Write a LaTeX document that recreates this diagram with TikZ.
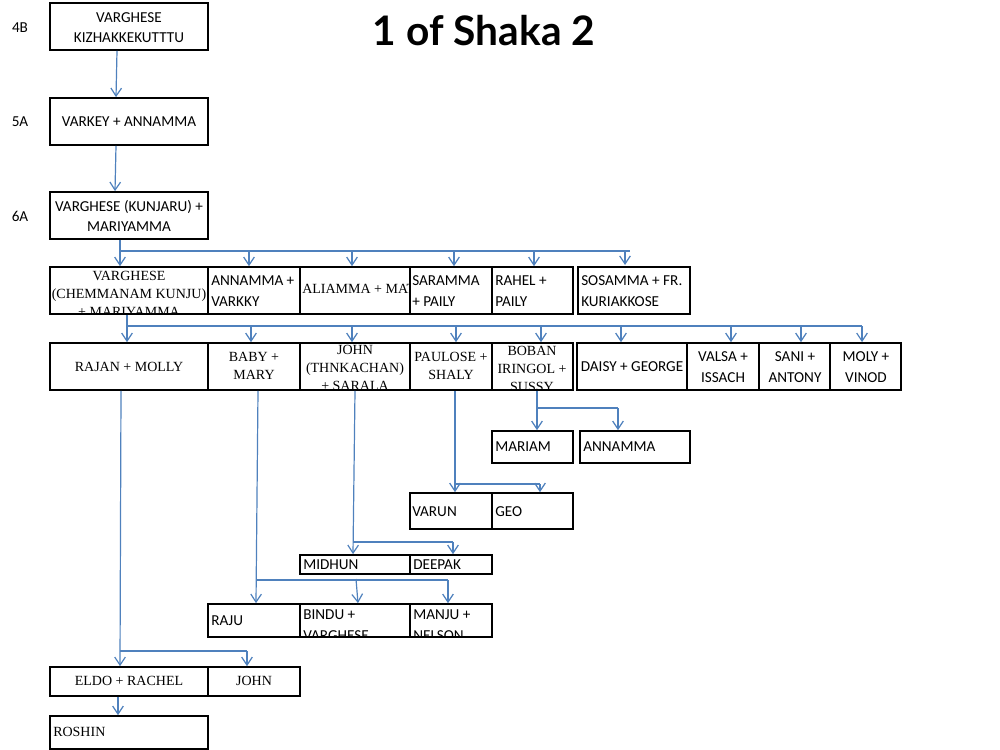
\documentclass[tikz,border=0pt]{standalone}
\usepackage{fontspec}
\usetikzlibrary{arrows.meta,fit}
\newfontfamily\calf{Carlito}
\newfontfamily\tmsf{Liberation Serif}
\newfontfamily\ttlf{Lato}
\definecolor{conn}{RGB}{79,129,189}
\tikzset{
  box/.style={draw=black, line width=1.3pt, inner sep=0pt, fill=none},
  cf/.style={font=\calf\fontsize{11.4}{15.5}\selectfont, inner sep=0pt, align=left},
  cfc/.style={font=\calf\fontsize{11.4}{15.5}\selectfont, inner sep=0pt, align=center},
  tf/.style={font=\tmsf\fontsize{10.5}{13.5}\selectfont, inner sep=0pt, align=center},
  tfl/.style={font=\tmsf\fontsize{10.5}{13.5}\selectfont, inner sep=0pt, align=left},
  ln/.style={draw=conn, line width=0.9pt},
  arr/.style={draw=conn, line width=0.9pt, -{Straight Barb[length=6pt,width=8pt]}},
  gen/.style={font=\calf\fontsize{11.4}{13}\selectfont, inner sep=0pt}
}
% name, x1, y1, x2, y2, text-node commands (clipped)
\newcommand\pbox[6]{%
  \begin{scope}\clip (#2,#3) rectangle (#4,#5); #6 \end{scope}
  \node[box, fit={(#2,#3)(#4,#5)}] (#1) {};
}
\begin{document}
\begin{tikzpicture}[x=0.75pt,y=-0.75pt]
\useasboundingbox (0,0) rectangle (1000,750);

% title
\node[font=\ttlf\bfseries\fontsize{30.5}{34}\selectfont, inner sep=0pt] (title) at (484,31) {1 of Shaka 2};

% generation labels
\node[gen] (g4b) at (20,28) {4B};
\node[gen] (g5a) at (20,122) {5A};
\node[gen] (g6a) at (20,216) {6A};

% top chain
\pbox{a}{50}{3}{208}{50}{\node[cfc] at (129,27.5) {VARGHESE\\KIZHAKKEKUTTTU};}
\pbox{b}{50}{98}{208}{145}{\node[cfc] at (129,122) {VARKEY + ANNAMMA};}
\pbox{c}{50}{192}{208}{239}{\node[cfc] at (129,216) {VARGHESE (KUNJARU) +\\MARIYAMMA};}

% row 1
\pbox{d1}{50}{267}{208}{314}{\node[tf] at (129,294) {VARGHESE\\(CHEMMANAM KUNJU)\\+ MARIYAMMA};}
\pbox{d2}{208}{267}{300}{314}{\node[cf, anchor=west] at (211,291) {ANNAMMA +\\VARKKY};}
\pbox{d3}{300}{267}{410}{314}{\node[tfl, anchor=west] at (302,289) {ALIAMMA + MAT};}
\pbox{d4}{410}{267}{492}{314}{\node[cf, anchor=west] at (412,291) {SARAMMA\\+ PAILY};}
\pbox{d5}{492}{267}{573}{314}{\node[cf, anchor=west] at (495,291) {RAHEL +\\PAILY};}
\pbox{d6}{578}{267}{690}{314}{\node[cf, anchor=west] at (581,291) {SOSAMMA + FR.\\KURIAKKOSE};}

% row 2
\pbox{e1}{50}{343}{208}{390}{\node[tf] at (129,367) {RAJAN + MOLLY};}
\pbox{e2}{208}{343}{300}{390}{\node[tf] at (254,366) {BABY +\\MARY};}
\pbox{e3}{300}{343}{410}{390}{\node[tf] at (355,368) {JOHN\\(THNKACHAN)\\+ SARALA};}
\pbox{e4}{410}{343}{492}{390}{\node[tf] at (451,366) {PAULOSE +\\SHALY};}
\pbox{e5}{492}{343}{573}{390}{\node[tf] at (532,369) {BOBAN\\IRINGOL +\\SUSSY};}
\pbox{e6}{577}{343}{687}{390}{\node[cfc] at (632,367) {DAISY + GEORGE};}
\pbox{e7}{687}{343}{759}{390}{\node[cfc] at (723,367) {VALSA +\\ISSACH};}
\pbox{e8}{759}{343}{830}{390}{\node[cfc] at (795,367) {SANI +\\ANTONY};}
\pbox{e9}{830}{343}{901}{390}{\node[cfc] at (866,367) {MOLY +\\VINOD};}

% row 3 and below
\pbox{mariam}{492}{431}{573}{463}{\node[cf, anchor=west] at (495,447) {MARIAM};}
\pbox{annamma}{580}{431}{690}{463}{\node[cf, anchor=west] at (583,447) {ANNAMMA};}
\pbox{varun}{410}{493}{492}{529}{\node[cf, anchor=west] at (412,512) {VARUN};}
\pbox{geo}{492}{493}{573}{529}{\node[cf, anchor=west] at (495,512) {GEO};}
\pbox{midhun}{300}{555}{410}{574}{\node[cf, anchor=west] at (303,565) {MIDHUN};}
\pbox{deepak}{410}{555}{492}{574}{\node[cf, anchor=west] at (413,565) {DEEPAK};}
\pbox{raju}{208}{604}{300}{637}{\node[cf, anchor=west] at (211,621) {RAJU};}
\pbox{bindu}{300}{604}{410}{637}{\node[cf, anchor=west] at (303,625) {BINDU +\\VARGHESE};}
\pbox{manju}{410}{604}{492}{637}{\node[cf, anchor=west] at (413,625) {MANJU +\\NELSON};}
\pbox{eldo}{50}{667}{208}{696}{\node[tf] at (129,681) {ELDO + RACHEL};}
\pbox{john}{208}{667}{300}{696}{\node[tf] at (254,681) {JOHN};}
\pbox{roshin}{50}{716}{208}{749}{\node[tfl, anchor=west] at (53,732) {ROSHIN};}

% connectors: top chain
\draw[arr] (a.south -| 117,0) -- (b.north -| 116,0);
\draw[arr] (b.south -| 116,0) -- (c.north -| 115,0);

% C -> row 1
\draw[arr] (c.south -| 120,0) -- (d1.north -| 120,0);
\draw[ln] (120,251) -- (630,251);
\coordinate (hang) at (625,265);
\draw[arr] (249,251) -- (d2.north -| 249,0);
\draw[arr] (352,251) -- (d3.north -| 352,0);
\draw[arr] (454,251) -- (d4.north -| 454,0);
\draw[arr] (534,251) -- (d5.north -| 534,0);
\draw[arr] (625,251) -- (hang);

% D1 -> row 2
\draw[arr] (d1.south -| 127,0) -- (e1.north -| 127,0);
\draw[ln] (127,326) -- (862,326);
\draw[arr] (251,326) -- (e2.north -| 251,0);
\draw[arr] (352,326) -- (e3.north -| 352,0);
\draw[arr] (456,326) -- (e4.north -| 456,0);
\draw[arr] (541,326) -- (e5.north -| 541,0);
\draw[arr] (621,326) -- (e6.north -| 621,0);
\draw[arr] (731,326) -- (e7.north -| 731,0);
\draw[arr] (801,326) -- (e8.north -| 801,0);
\draw[arr] (862,326) -- (e9.north -| 862,0);

% E5 -> Mariam, Annamma
\draw[arr] (e5.south -| 537,0) -- (mariam.north -| 537,0);
\draw[ln] (537,408) -- (618,408);
\draw[arr] (618,408) -- (annamma.north -| 618,0);

% E4 -> Varun, Geo
\draw[arr] (e4.south -| 455,0) -- (varun.north -| 455,0);
\draw[ln] (455,484) -- (540,484);
\draw[arr] (540,484) -- (geo.north -| 540,0);

% E3 -> Midhun, Deepak
\draw[arr] (e3.south -| 355,0) -- (midhun.north -| 353,0);
\draw[ln] (353,542) -- (453,542);
\draw[arr] (453,542) -- (deepak.north -| 453,0);

% E2 -> Raju, Bindu, Manju
\draw[arr] (e2.south -| 258,0) -- (raju.north -| 256,0);
\draw[ln] (256,580) -- (448,580);
\draw[arr] (356,579) -- (bindu.north -| 358,0);
\draw[arr] (448,580) -- (manju.north -| 448,0);

% E1 -> Eldo, John
\draw[arr] (e1.south -| 121,0) -- (eldo.north -| 120,0);
\draw[ln] (120,651) -- (247,651);
\draw[arr] (247,651) -- (john.north -| 247,0);

% Eldo -> Roshin
\draw[arr] (eldo.south -| 118,0) -- (roshin.north -| 118,0);
\end{tikzpicture}
\end{document}
